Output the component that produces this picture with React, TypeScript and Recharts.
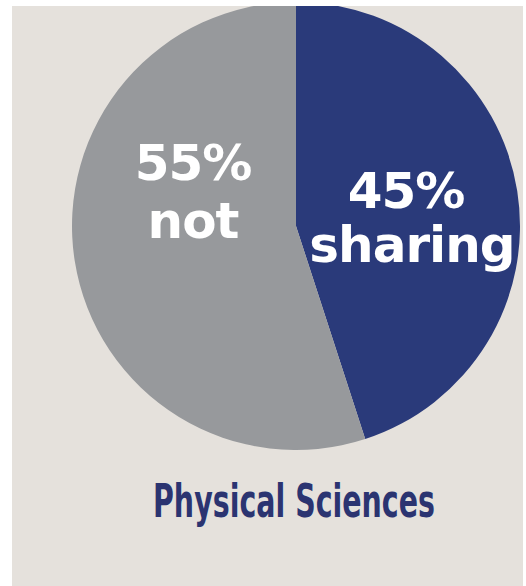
import { PieChart, Pie, Cell } from "recharts";

// Share of respondents, Physical Sciences
const categories = ["sharing", "not"];
const values = [45, 55];
const percentLabels = ["45%", "55%"];
const colors = ["#2a3a7a", "#97999c"];
const title = "Physical Sciences";

const rows = categories.map((name, i) => ({
  name,
  value: values[i],
  pct: percentLabels[i],
}));

const BG = "#e5e1dc";
const W = 511;
const H = 580;
const CX = 284;
const CY = 220;
const R = 224;

// Where each label block sits, relative to the pie centre.
const LABEL_POS = [
  { dx: 110, top: -18, bottom: 36, under: 116 },
  { dx: -103, top: -46, bottom: 12, under: -103 },
];

interface LabelProps {
  cx: number;
  cy: number;
  index: number;
}

function SliceLabel({ cx, cy, index }: LabelProps) {
  const p = LABEL_POS[index];
  const row = rows[index];
  const style = {
    fontFamily: "DejaVu Sans",
    fontWeight: 700,
    fontSize: 50,
    letterSpacing: -1,
  };
  return (
    <g>
      <text x={cx + p.dx} y={cy + p.top} textAnchor="middle" fill="#ffffff" style={style}>
        {row.pct}
      </text>
      <text x={cx + p.under} y={cy + p.bottom} textAnchor="middle" fill="#ffffff" style={style}>
        {row.name}
      </text>
    </g>
  );
}

export default function App() {
  return (
    <div
      style={{
        position: "absolute",
        left: 0,
        top: 0,
        width: 526,
        height: 586,
        background: "#ffffff",
      }}
    >
      <div
        style={{
          position: "absolute",
          left: 12,
          top: 6,
          width: W,
          height: H,
          background: BG,
          overflow: "hidden",
        }}
      >
        <PieChart width={W} height={H} margin={{ top: 0, right: 0, bottom: 0, left: 0 }}>
          <Pie
            data={rows}
            dataKey="value"
            nameKey="name"
            cx={CX}
            cy={CY}
            outerRadius={R}
            startAngle={90}
            endAngle={-270}
            stroke="none"
            labelLine={false}
            label={(props: any) => <SliceLabel cx={props.cx} cy={props.cy} index={props.index} />}
            isAnimationActive={false}
          >
            {rows.map((r, i) => (
              <Cell key={r.name} fill={colors[i]} />
            ))}
          </Pie>
        </PieChart>
        <svg
          width={W}
          height={H}
          style={{ position: "absolute", left: 0, top: 0, pointerEvents: "none" }}
        >
          <text
            x={282}
            y={511}
            textAnchor="middle"
            textLength={282}
            lengthAdjust="spacingAndGlyphs"
            fill="#2b3471"
            style={{ fontFamily: "Liberation Sans Narrow, DejaVu Sans Condensed", fontWeight: 700, fontSize: 47 }}
          >
            {title}
          </text>
        </svg>
      </div>
    </div>
  );
}
